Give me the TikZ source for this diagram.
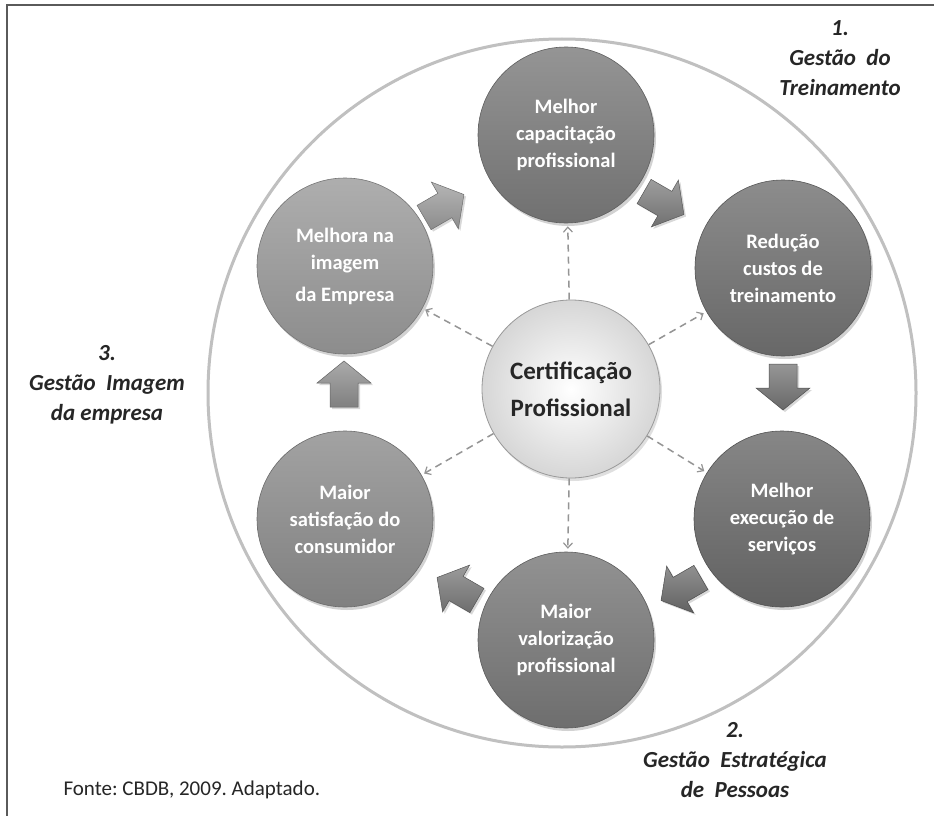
\documentclass[tikz,border=0pt]{standalone}
\usepackage{fontspec}
\setmainfont{Carlito}
\usetikzlibrary{shadows,arrows.meta}
\frenchspacing

\definecolor{ink}{HTML}{262626}
\definecolor{framegray}{HTML}{5A5A5A}
\definecolor{ringgray}{HTML}{C0C0C0}
\definecolor{dashgray}{HTML}{959595}
\definecolor{cTL}{HTML}{9C9C9C}
\definecolor{cT}{HTML}{7D7D7D}
\definecolor{cTR}{HTML}{737373}
\definecolor{cBR}{HTML}{6C6C6C}
\definecolor{cB}{HTML}{7A7A7A}
\definecolor{cBL}{HTML}{8E8E8E}

\tikzset{
  stage/.style={circle, minimum size=176pt, inner sep=0pt, align=center,
    text=white, font=\fontsize{20.5}{27}\selectfont\bfseries,
    top color=#1!82!white, bottom color=#1!90!black, draw=#1!75!black, line width=0.6pt,
    drop shadow={opacity=0.35, shadow xshift=2pt, shadow yshift=-3pt}},
  hub/.style={circle, minimum size=178pt, inner sep=0pt, align=center,
    text=ink, font=\fontsize{25}{37}\selectfont\bfseries,
    inner color=white, outer color=black!16, draw=black!40, line width=0.8pt,
    drop shadow={opacity=0.25, shadow xshift=2pt, shadow yshift=-3pt}},
  phase/.style={align=center, text=ink, font=\fontsize{23}{30}\selectfont\bfseries\itshape},
  dashconn/.style={draw=dashgray, line width=1.5pt, dash pattern=on 7pt off 5pt,
    -{Straight Barb[length=5pt,width=9pt,line width=1.2pt]}, shorten >=3pt},
  blockarrow/.pic={
    \path[top color=#1!75!white, bottom color=#1!90!black, draw=#1!70!black, line width=0.5pt,
      drop shadow={opacity=0.3, shadow xshift=2pt, shadow yshift=-2pt}]
      (-23,-14) -- (1,-14) -- (1,-27) -- (23,0) -- (1,27) -- (1,14) -- (-23,14) -- cycle;
  },
  pics/blockarrow/.default=gray
}

\begin{document}
\begin{tikzpicture}[x=1pt,y=-1pt]
\useasboundingbox (0,0) rectangle (934,816);
\fill[white] (0,0) rectangle (934,816);

% frame lines
\draw[framegray, line width=2pt] (7,816) -- (7,5) -- (934,5);

% outer ring
\draw[ringgray, line width=3pt] (562,393) circle[radius=354];

% stages of the cycle
\node[stage=cT]  (t)  at (566,135) {Melhor\\capacitação\\profissional};
\node[stage=cTR] (tr) at (783,268) {Redução\\custos de\\treinamento};
\node[stage=cBR] (br) at (782,519) {Melhor\\execução de\\serviços};
\node[stage=cB]  (b)  at (566,640) {Maior\\valorização\\profissional};
\node[stage=cBL] (bl) at (345,519) {Maior\\satisfação do\\consumidor};
\node[stage=cTL] (tl) at (345,266) {Melhora na\\imagem\\[5pt]da Empresa};

% central node
\node[hub] (c) at (571,389) {Certificação\\Profissional};

% dashed links from the center
\foreach \n in {t,tr,br,b,bl,tl}
  \draw[dashconn] (c) -- (\n);

% block arrows of the cycle
\pic[rotate=30]   at (444,206) {blockarrow=cTL};
\pic[rotate=-30]  at (664,203) {blockarrow=cT};
\pic[rotate=-90]  at (783,387) {blockarrow=cTR};
\pic[rotate=-150] at (681,589) {blockarrow=cBR};
\pic[rotate=150]  at (457,589) {blockarrow=cB};
\pic[rotate=90]   at (344,384) {blockarrow=cBL};

% phase labels
\node[phase] (p1) at (840,58)  {1.\\Gestão\ \ do\\Treinamento};
\node[phase] (p3) at (107,385) {3.\\Gestão\ \ Imagem\\da empresa};
\node[phase] (p2) at (735,760) {2.\\Gestão\ \ Estratégica\\de\ \ Pessoas};

% source
\node[anchor=west, text=ink, font=\fontsize{21}{25}\selectfont] (src) at (60,790) {Fonte: CBDB, 2009. Adaptado.};
\end{tikzpicture}
\end{document}
